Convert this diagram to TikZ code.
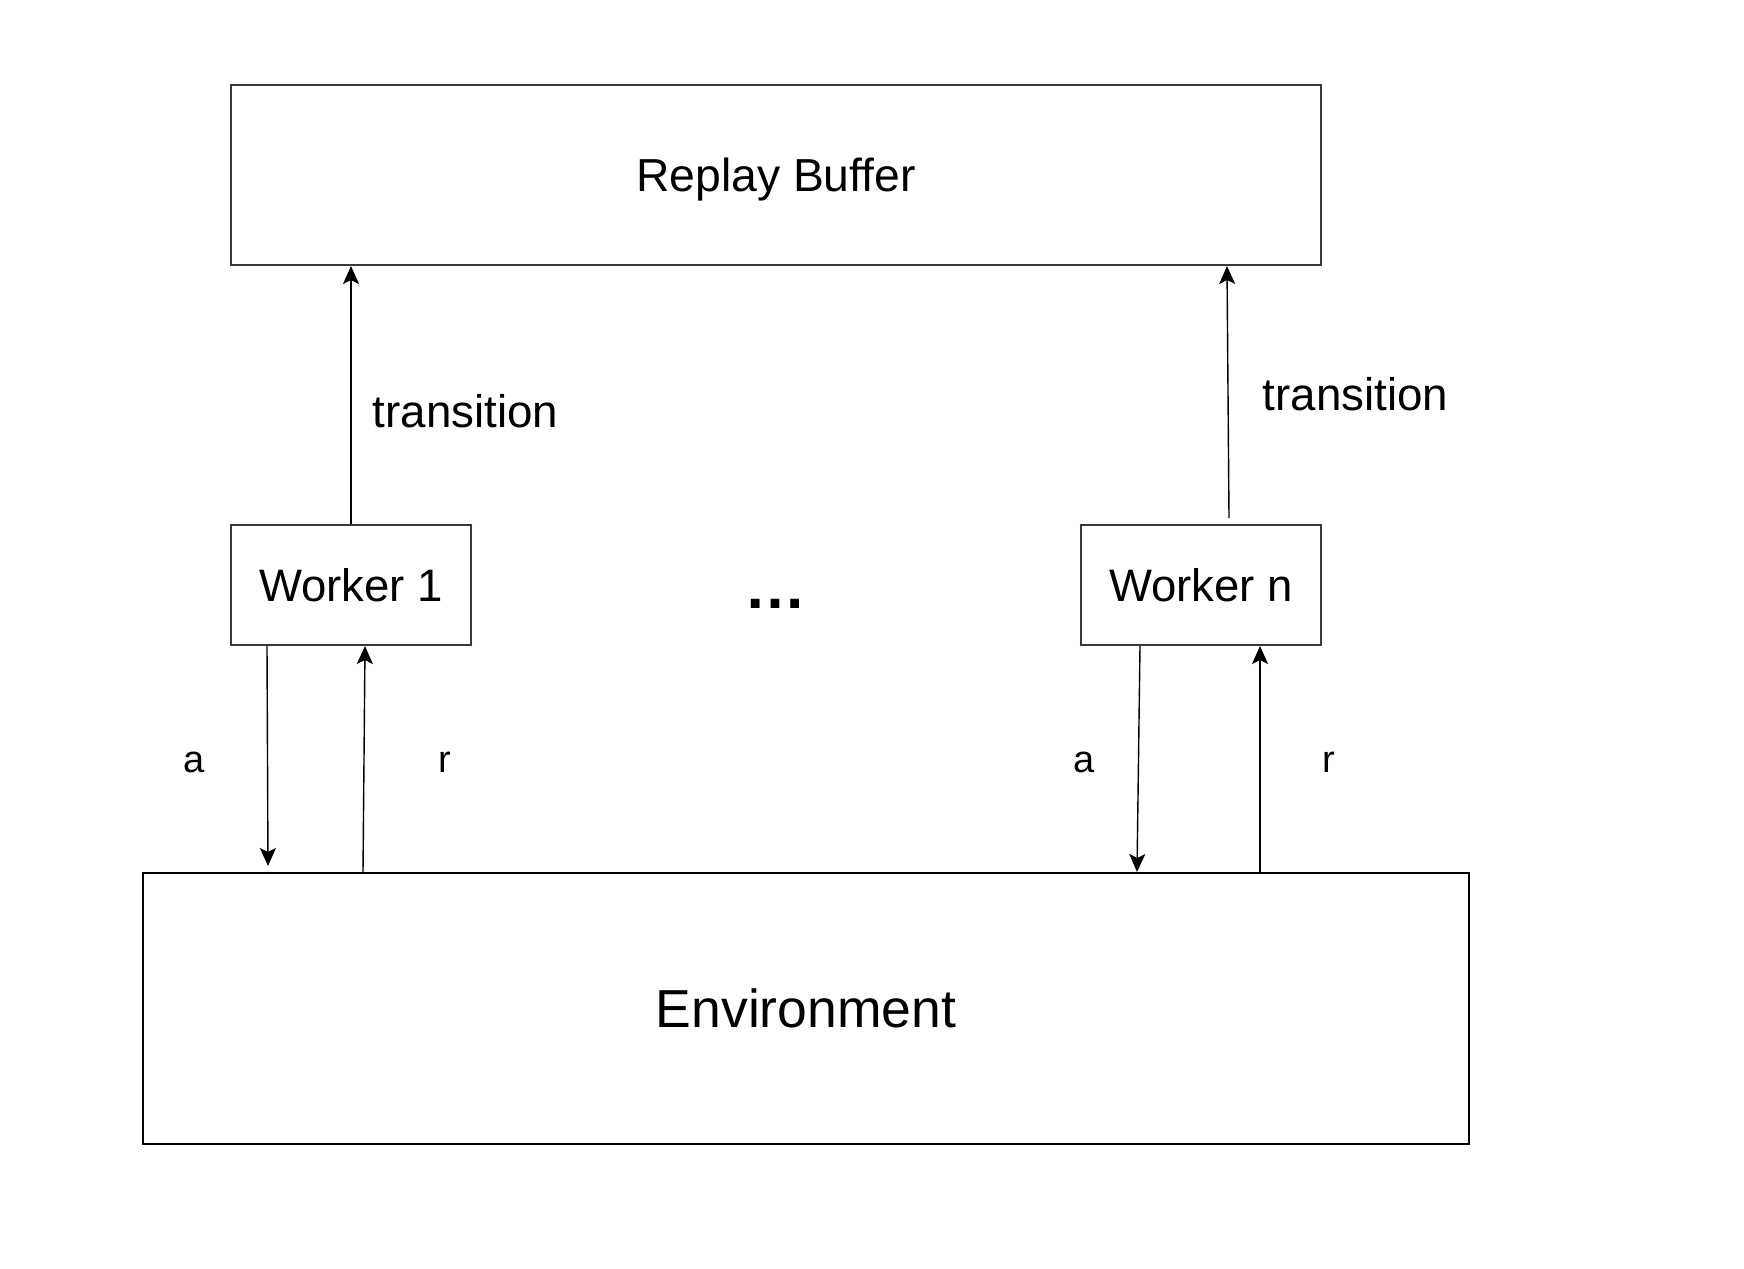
\documentclass[tikz,border=0pt]{standalone}
\usepackage{fontspec}
\setmainfont{Liberation Sans}
\usetikzlibrary{arrows.meta}
\definecolor{boxgray}{HTML}{36393D}
\tikzset{
  box/.style={draw=boxgray, line width=2pt, rectangle, inner sep=0pt, align=center},
  bigtext/.style={font=\fontsize{45.5}{54}\selectfont, text height=32.6pt, text depth=0pt},
  rbtext/.style={font=\fontsize{46.3}{55}\selectfont, text height=33.1pt, text depth=0pt},
  envtext/.style={font=\fontsize{53.5}{62}\selectfont, text height=38.3pt, text depth=0pt},
  lbl/.style={inner sep=0pt, anchor=base},
  lblbig/.style={lbl, font=\fontsize{45.7}{54}\selectfont},
  lblsmall/.style={lbl, font=\fontsize{38}{46}\selectfont},
  arr/.style={line width=1.4pt, -{Stealth[length=18pt, width=16pt, inset=4pt]}}
}
\begin{document}
\begin{tikzpicture}[x=1pt, y=-1pt]
\useasboundingbox (0,0) rectangle (1744,1268);
\fill[white] (0,0) rectangle (1744,1268);

\node[box, rbtext, minimum width=1090pt, minimum height=180pt] (rb) at (776,175) {Replay Buffer};
\node[box, bigtext, minimum width=240pt, minimum height=120pt] (w1) at (351,585) {Worker 1};
\node[box, bigtext, minimum width=240pt, minimum height=120pt] (wn) at (1201,585) {Worker n};
\node[box, envtext, draw=black, minimum width=1326pt, minimum height=271pt] (env) at (806,1008.5) {Environment};

\node[lbl, font=\fontsize{62}{70}\selectfont\bfseries] (dots) at (775,608) {…};

% transitions
\draw[arr] ([xshift=121pt]w1.north west) -- ([xshift=121pt]rb.south west);
\draw[arr] ([xshift=149pt, yshift=6pt]wn.north west) -- ([xshift=997pt]rb.south west);
\node[lblbig] (t1) at (465.5,427) {transition};
\node[lblbig] (tn) at (1355.5,410) {transition};

% worker 1 <-> environment
\draw[arr] ([xshift=37pt]w1.south west) -- ([xshift=126pt, yshift=6pt]env.north west);
\draw[arr] ([xshift=221pt]env.north west) -- ([xshift=135pt]w1.south west);
\node[lblsmall] (a1) at (194.5,772) {a};
\node[lblsmall] (r1) at (445,772) {r};

% worker n <-> environment
\draw[arr] ([xshift=60pt]wn.south west) -- ([xshift=995pt]env.north west);
\draw[arr] ([xshift=1118pt]env.north west) -- ([xshift=180pt]wn.south west);
\node[lblsmall] (an) at (1084.5,772) {a};
\node[lblsmall] (rn) at (1329,772) {r};
\end{tikzpicture}
\end{document}
